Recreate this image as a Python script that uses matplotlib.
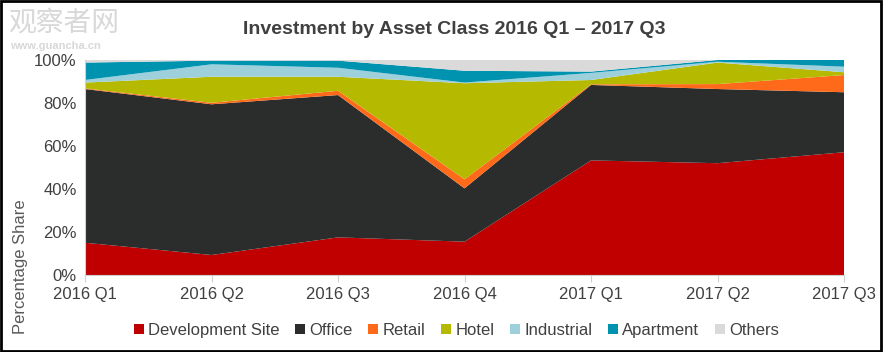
import matplotlib.pyplot as plt
import numpy as np
from matplotlib.patches import Rectangle

quarters = ["2016 Q1", "2016 Q2", "2016 Q3", "2016 Q4", "2017 Q1", "2017 Q2", "2017 Q3"]
labels = ["Development Site", "Office", "Retail", "Hotel", "Industrial", "Apartment", "Others"]

dev_site = [15.0, 9.3, 17.5, 15.5, 53.3, 52.0, 57.1]
office = [71.5, 70.1, 66.2, 24.8, 35.1, 34.5, 27.9]
retail = [0.3, 0.7, 2.0, 4.2, 0.3, 2.3, 8.0]
hotel = [2.7, 12.1, 6.5, 44.7, 2.0, 10.0, 1.3]
industrial = [1.2, 5.8, 4.2, 0.3, 3.3, 0.4, 2.6]
apartment = [8.1, 1.7, 3.3, 5.5, 0.6, 0.8, 3.1]
others = [1.2, 0.3, 0.3, 5.0, 5.4, 0.0, 0.0]

colors = ["#C00000", "#2B2D2D", "#FF6A1A", "#B5BA00", "#9ED0DC", "#0093B0", "#DADADA"]

plt.rcParams["font.family"] = ["Liberation Sans", "DejaVu Sans"]

fig = plt.figure(figsize=(8.83, 3.52), dpi=100)
ax = fig.add_axes([85 / 883, 77 / 352, 759 / 883, 215 / 352])

x = np.arange(len(quarters))
series = [dev_site, office, retail, hotel, industrial, apartment, others]
ax.stackplot(x, *series, colors=colors, labels=labels, linewidth=0)

ax.set_xlim(0, len(quarters) - 1)
ax.set_ylim(0, 100)
ax.set_yticks(np.arange(0, 101, 20))
ax.set_yticklabels([f"{v}%" for v in range(0, 101, 20)])
ax.set_xticks(x)
ax.set_xticklabels(quarters)
ax.tick_params(axis="both", labelsize=12, colors="#404040")
ax.tick_params(axis="y", length=0, pad=6)
ax.tick_params(axis="x", length=5, color="#D0D0D0", pad=4)
for s in ["top", "right"]:
    ax.spines[s].set_visible(False)
ax.spines["left"].set_color("#D0D0D0")
ax.spines["bottom"].set_color("#D0D0D0")

ax.set_ylabel("Percentage Share", fontsize=12, color="#595959")
ax.yaxis.set_label_coords(-0.075, 0.04)
ax.yaxis.label.set_va("bottom")
ax.yaxis.label.set_ha("center")

fig.suptitle("Investment by Asset Class 2016 Q1 – 2017 Q3", fontsize=14, fontweight="bold",
             color="#404040", x=0.515, y=0.94)

handles, lbls = ax.get_legend_handles_labels()
leg = fig.legend(handles, lbls, loc="center", bbox_to_anchor=(0.517, 0.062), ncol=7,
                 frameon=False, fontsize=12, handlelength=0.6, handleheight=0.6,
                 handletextpad=0.25, columnspacing=0.95)
for t in leg.get_texts():
    t.set_color("#404040")

fig.text(0.009, 0.935, "观察者网", fontsize=20, color="#D8D8D8",
         family=["Noto Sans CJK SC", "DejaVu Sans"], va="center")
fig.text(0.011, 0.87, "www.guancha.cn", fontsize=8, color="#D8D8D8", va="center",
         fontweight="bold")

fig.patches.append(Rectangle((0.001, 0.002), 0.997, 0.995, transform=fig.transFigure,
                             fill=False, edgecolor="black", linewidth=2))

fig.savefig("out.png", dpi=100)
